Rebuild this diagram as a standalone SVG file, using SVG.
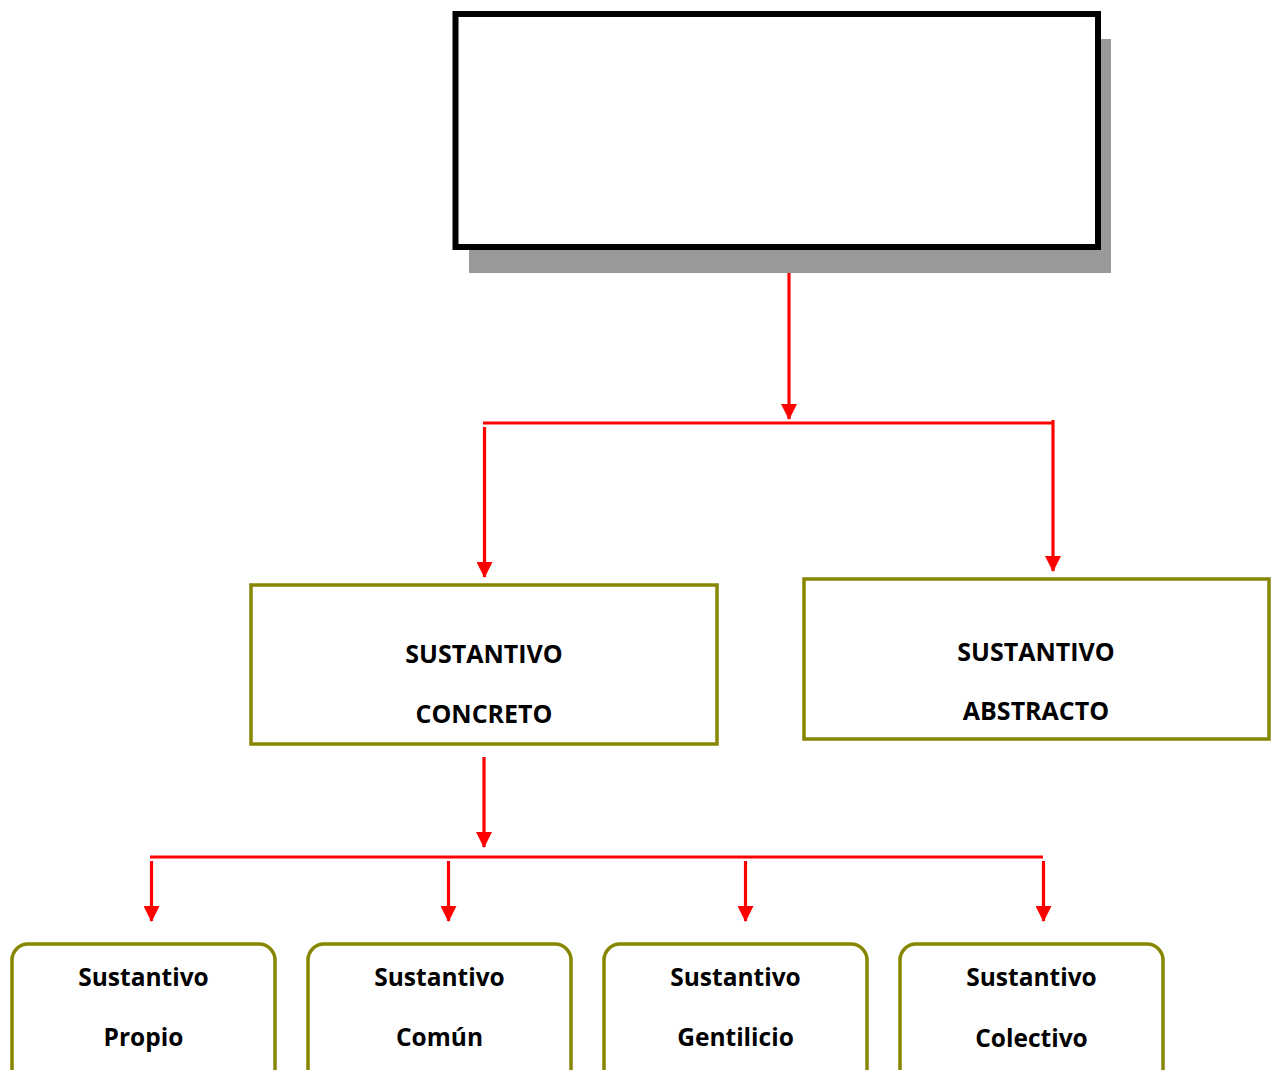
<svg xmlns="http://www.w3.org/2000/svg" width="1271" height="1070" viewBox="0 0 1271 1070">
<defs>
<marker id="ah" markerUnits="userSpaceOnUse" markerWidth="16" markerHeight="16" viewBox="0 0 16 16" refX="15" refY="8" orient="auto">
<path d="M0,0 L16,8 L0,16 Z" fill="#FF0000"/>
</marker>
<style>
.box{fill:#FFFFFF;stroke:#868600;stroke-width:3.5}
.conn{stroke:#FF0000;stroke-width:3.2;fill:none}
.arr{stroke:#FF0000;stroke-width:3.2;fill:none;marker-end:url(#ah)}
.t{font-family:"Open Sans","Noto Sans",sans-serif;font-weight:bold;font-size:25px;fill:#000000;text-anchor:middle}
.s{font-size:24.5px}
</style>
</defs>
<rect width="1271" height="1070" fill="#FFFFFF"/>
<g id="top">
<rect x="469" y="39" width="642" height="234" fill="#999999"/>
<rect x="455.5" y="14" width="642.5" height="233" fill="#FFFFFF" stroke="#000000" stroke-width="6"/>
</g>
<g id="connectors">
<line class="arr" x1="789" y1="273" x2="789" y2="419"/>
<line class="conn" x1="483" y1="423" x2="1054" y2="423"/>
<line class="arr" x1="484.5" y1="427" x2="484.5" y2="577"/>
<line class="arr" x1="1053" y1="420" x2="1053" y2="571"/>
<line class="arr" x1="484" y1="757" x2="484" y2="847"/>
<line class="conn" x1="150" y1="857" x2="1043" y2="857"/>
<line class="arr" x1="151.5" y1="861" x2="151.5" y2="921"/>
<line class="arr" x1="448.5" y1="861" x2="448.5" y2="921"/>
<line class="arr" x1="745.5" y1="861" x2="745.5" y2="921"/>
<line class="arr" x1="1043.5" y1="861" x2="1043.5" y2="921"/>
</g>
<g id="concreto">
<rect class="box" x="251" y="585" width="466" height="159"/>
<text class="t" x="484" y="663">SUSTANTIVO</text>
<text class="t" x="484" y="723">CONCRETO</text>
</g>
<g id="abstracto">
<rect class="box" x="804" y="579" width="465" height="160"/>
<text class="t" x="1036" y="661">SUSTANTIVO</text>
<text class="t" x="1036" y="720">ABSTRACTO</text>
</g>
<g id="propio">
<rect class="box" x="12" y="944" width="263" height="150" rx="16"/>
<text class="t s" x="143.5" y="986">Sustantivo</text>
<text class="t s" x="143.5" y="1046">Propio</text>
</g>
<g id="comun">
<rect class="box" x="308" y="944" width="263" height="150" rx="16"/>
<text class="t s" x="439.5" y="986">Sustantivo</text>
<text class="t s" x="439.5" y="1046">Común</text>
</g>
<g id="gentilicio">
<rect class="box" x="604" y="944" width="263" height="150" rx="16"/>
<text class="t s" x="735.5" y="986">Sustantivo</text>
<text class="t s" x="735.5" y="1046">Gentilicio</text>
</g>
<g id="colectivo">
<rect class="box" x="900" y="944" width="263" height="150" rx="16"/>
<text class="t s" x="1031.5" y="986">Sustantivo</text>
<text class="t s" x="1031.5" y="1047">Colectivo</text>
</g>
</svg>
